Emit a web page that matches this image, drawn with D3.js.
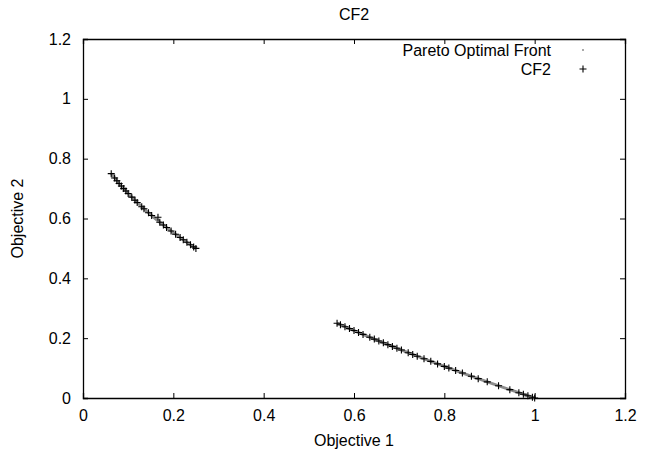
<!DOCTYPE html>
<html>
<head>
<meta charset="utf-8">
<script src="https://cdn.jsdelivr.net/npm/d3@7"></script>
<style>
  body { margin: 0; background: #ffffff; }
  text { font-family: "Liberation Sans", Arial, sans-serif; font-size: 16px; fill: #000; }
</style>
</head>
<body>
<div id="chart"></div>
<script>
// Pareto optimal front, two disconnected pieces
const frontA1 = [0.0625, 0.08, 0.1, 0.12, 0.14, 0.16, 0.18, 0.2, 0.22, 0.24, 0.25];
const frontA2 = [0.75, 0.7172, 0.6838, 0.6536, 0.6258, 0.6, 0.5757, 0.5528, 0.5310, 0.5101, 0.5];
const frontB1 = [0.5625, 0.6, 0.65, 0.7, 0.75, 0.8, 0.85, 0.9, 0.95, 1.0];
const frontB2 = [0.25, 0.2254, 0.1938, 0.1633, 0.1340, 0.1056, 0.0780, 0.0513, 0.0253, 0];

// CF2 solutions
const cf2Obj1 = [
  0.0625, 0.07, 0.075, 0.08, 0.085, 0.09, 0.095, 0.1, 0.108, 0.115, 0.12, 0.13, 0.135,
  0.145, 0.152, 0.166, 0.17, 0.178, 0.185, 0.195, 0.205, 0.215, 0.222, 0.23, 0.238, 0.245, 0.25,
  0.5625, 0.57, 0.58, 0.59, 0.6, 0.61, 0.62, 0.635, 0.645, 0.655, 0.665, 0.675, 0.685,
  0.695, 0.705, 0.72, 0.73, 0.74, 0.755, 0.77, 0.785, 0.8, 0.81, 0.825, 0.84, 0.86,
  0.875, 0.895, 0.92, 0.945, 0.965, 0.975, 0.985, 0.995, 1.0
];
const cf2Obj2 = [
  0.75, 0.7354, 0.7261, 0.7172, 0.7085, 0.7, 0.6918, 0.6838, 0.6714, 0.6609, 0.6536, 0.6394, 0.6326,
  0.6192, 0.6101, 0.604, 0.5877, 0.5781, 0.5699, 0.5584, 0.5472, 0.5363, 0.5288, 0.5204, 0.5121, 0.505, 0.5,
  0.25, 0.245, 0.2384, 0.2319, 0.2254, 0.219, 0.2126, 0.2031, 0.1969, 0.1907, 0.1845, 0.1784, 0.1724,
  0.1663, 0.1604, 0.1515, 0.1456, 0.1398, 0.1311, 0.1225, 0.114, 0.1056, 0.1, 0.0917, 0.0835, 0.0726,
  0.0646, 0.054, 0.0408, 0.0279, 0.0177, 0.0126, 0.0075, 0.0025, 0
];

const tickValues = [0, 0.2, 0.4, 0.6, 0.8, 1, 1.2];

const width = 647, height = 455;
const margin = { top: 39, right: 22, bottom: 57, left: 83 };

const svg = d3.select('#chart').append('svg')
  .attr('width', width)
  .attr('height', height);

const x = d3.scaleLinear().domain([0, 1.2]).range([margin.left, width - margin.right]);
const y = d3.scaleLinear().domain([0, 1.2]).range([height - margin.bottom, margin.top]);

const fmt = d => d === 0 || d === 1 ? String(d) : d3.format('.1f')(d);

// Axes, ticks inward on all four sides
svg.append('g')
  .attr('transform', `translate(0,${y(0)})`)
  .call(d3.axisBottom(x).tickValues(tickValues).tickSize(-5).tickPadding(12).tickFormat(fmt));
svg.append('g')
  .attr('transform', `translate(0,${y(1.2)})`)
  .call(d3.axisTop(x).tickValues(tickValues).tickSize(-5).tickFormat(''));
svg.append('g')
  .attr('transform', `translate(${x(0)},0)`)
  .call(d3.axisLeft(y).tickValues(tickValues).tickSize(-5).tickPadding(12).tickFormat(fmt));
svg.append('g')
  .attr('transform', `translate(${x(1.2)},0)`)
  .call(d3.axisRight(y).tickValues(tickValues).tickSize(-5).tickFormat(''));

svg.selectAll('.domain').attr('stroke', '#000').attr('stroke-width', 1.3);
svg.selectAll('.tick line').attr('stroke', '#000');
svg.selectAll('.tick text').style('font-size', '16px').attr('fill', '#000')
  .style('font-family', '"Liberation Sans", Arial, sans-serif');

// Pareto front
const line = d3.line().x(d => x(d[0])).y(d => y(d[1]));
[[frontA1, frontA2], [frontB1, frontB2]].forEach(([a, b]) => {
  svg.append('path')
    .datum(a.map((v, i) => [v, b[i]]))
    .attr('d', line)
    .attr('fill', 'none')
    .attr('stroke', '#8c8c8c')
    .attr('stroke-width', 3);
});

// CF2 points as plus markers
const pts = cf2Obj1.map((v, i) => [v, cf2Obj2[i]]);
svg.append('g')
  .selectAll('path')
  .data(pts)
  .join('path')
  .attr('d', 'M-3.5,0H3.5M0,-3.5V3.5')
  .attr('transform', d => `translate(${x(d[0])},${y(d[1])})`)
  .attr('stroke', '#000')
  .attr('stroke-width', 1.1)
  .attr('fill', 'none');

// Title and axis labels
svg.append('text').attr('x', (x(0) + x(1.2)) / 2).attr('y', 20)
  .attr('text-anchor', 'middle').text('CF2');
svg.append('text').attr('x', (x(0) + x(1.2)) / 2).attr('y', 446)
  .attr('text-anchor', 'middle').text('Objective 1');
svg.append('text')
  .attr('transform', `translate(23,${(y(0) + y(1.2)) / 2}) rotate(-90)`)
  .attr('text-anchor', 'middle').text('Objective 2');

// Legend
const legend = svg.append('g');
legend.append('text').attr('x', 551).attr('y', 56).attr('text-anchor', 'end').text('Pareto Optimal Front');
legend.append('path').attr('d', 'M582,50H584').attr('stroke', '#8c8c8c').attr('stroke-width', 1.5);
legend.append('text').attr('x', 551).attr('y', 75).attr('text-anchor', 'end').text('CF2');
legend.append('path').attr('d', 'M579.5,69H586.5M583,65.5V72.5').attr('stroke', '#000').attr('stroke-width', 1.1);
</script>
</body>
</html>
